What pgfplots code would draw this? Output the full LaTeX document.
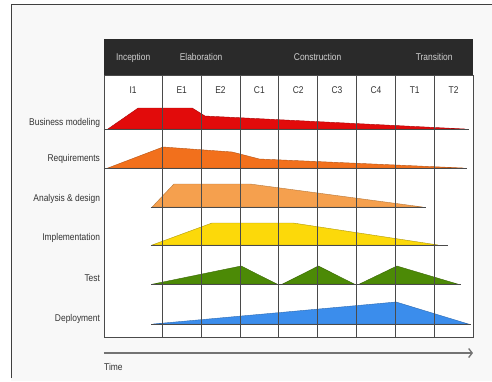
\documentclass[border=0pt]{standalone}
\usepackage{fontspec}
\setmainfont{Liberation Sans}[FakeStretch=0.86]
\usepackage{pgfplots}
\pgfplotsset{compat=1.18}
\usetikzlibrary{arrows.meta}
\definecolor{cBM}{HTML}{E20B0B}
\definecolor{cRQ}{HTML}{F2701C}
\definecolor{cAD}{HTML}{F5A04E}
\definecolor{cIM}{HTML}{FCD90A}
\definecolor{cTE}{HTML}{4C8A06}
\definecolor{cDE}{HTML}{3B8DEC}
\definecolor{hdr}{HTML}{2A2A2A}
\definecolor{bg}{HTML}{F8F8F8}
\definecolor{gridc}{HTML}{4A4A4A}
\definecolor{txt}{HTML}{333333}
\begin{document}
\begin{tikzpicture}
% page background and frame (axis south west sits at (0,0))
\fill[white] (-104pt,-44pt) rectangle (388pt,337pt);
\fill[bg] (-93pt,-44pt) rectangle (388pt,333pt);
\draw[black!75, line width=0.9pt] (-93pt,-41pt) -- (-93pt,333pt) -- (388pt,333pt);
\begin{axis}[
  name=ax, at={(0,0)}, anchor=south west,
  width=369pt, height=298pt, scale only axis,
  xmin=0, xmax=9.5, ymin=0, ymax=298,
  axis line style={draw=none},
  xtick=\empty,
  ytick={214,178,138,99,59,18},
  yticklabels={Business modeling,Requirements,Analysis \& design,Implementation,Test,Deployment},
  yticklabel style={font=\fontsize{9.8}{11}\selectfont, text=txt, xshift=-0.5pt},
  major tick length=0pt,
  clip=false,
]
% white grid area
\fill[white] (axis cs:0,0) rectangle (axis cs:9.5,262);
% Business modeling
\addplot[fill=cBM, draw=cBM!75!black, line width=0.4pt] coordinates {(0.1,208) (0.88,229) (2.27,229) (2.6,221) (9.3,208)} -- cycle;
% Requirements
\addplot[fill=cRQ, draw=cRQ!75!black, line width=0.4pt] coordinates {(0.1,169) (1.52,190) (3.3,185) (4.0,178) (9.25,169)} -- cycle;
% Analysis & design
\addplot[fill=cAD, draw=cAD!75!black, line width=0.4pt] coordinates {(1.24,130) (1.8,153) (3.76,153) (8.2,130)} -- cycle;
% Implementation
\addplot[fill=cIM, draw=cIM!70!black, line width=0.4pt] coordinates {(1.24,92) (2.78,114) (4.87,114) (8.6,92)} -- cycle;
% Test
\addplot[fill=cTE, draw=cTE!75!black, line width=0.4pt] coordinates {(1.27,53) (3.53,71) (4.45,53)} -- cycle;
\addplot[fill=cTE, draw=cTE!75!black, line width=0.4pt] coordinates {(4.6,53) (5.52,71) (6.44,53)} -- cycle;
\addplot[fill=cTE, draw=cTE!75!black, line width=0.4pt] coordinates {(6.58,53) (7.54,71) (9.1,53)} -- cycle;
% Deployment
\addplot[fill=cDE, draw=cDE!75!black, line width=0.4pt] coordinates {(1.27,13) (7.52,35) (9.38,13)} -- cycle;
% baselines
\addplot[gridc, line width=0.5pt] coordinates {(0,208) (9.4,208)};
\addplot[gridc, line width=0.5pt] coordinates {(0,169) (9.35,169)};
\addplot[gridc, line width=0.5pt] coordinates {(1.2,130) (8.3,130)};
\addplot[gridc, line width=0.5pt] coordinates {(1.2,92) (8.85,92)};
\addplot[gridc, line width=0.5pt] coordinates {(1.22,53) (9.2,53)};
\addplot[gridc, line width=0.5pt] coordinates {(1.22,13) (9.45,13)};
% grid
\foreach \x in {1.5,2.5,3.5,4.5,5.5,6.5,7.5,8.5}{
  \edef\tmp{\noexpand\draw[gridc, line width=0.8pt] (axis cs:\x,0) -- (axis cs:\x,262);}\tmp
}
\draw[gridc, line width=0.9pt] (axis cs:0,262) rectangle (axis cs:9.5,0);
% header
\fill[hdr] (axis cs:0,262) rectangle (axis cs:9.5,298);
\begin{scope}[every node/.style={font=\fontsize{9.8}{11}\selectfont, anchor=base, inner sep=0pt}]
\node[text=black!18] at (axis cs:0.75,276.5) {Inception};
\node[text=black!18] at (axis cs:2.5,276.5) {Elaboration};
\node[text=black!18] at (axis cs:5.5,276.5) {Construction};
\node[text=black!18] at (axis cs:8.5,276.5) {Transition};
\node[text=txt] at (axis cs:0.75,243.5) {I1};
\node[text=txt] at (axis cs:2,243.5) {E1};
\node[text=txt] at (axis cs:3,243.5) {E2};
\node[text=txt] at (axis cs:4,243.5) {C1};
\node[text=txt] at (axis cs:5,243.5) {C2};
\node[text=txt] at (axis cs:6,243.5) {C3};
\node[text=txt] at (axis cs:7,243.5) {C4};
\node[text=txt] at (axis cs:8,243.5) {T1};
\node[text=txt] at (axis cs:9,243.5) {T2};
\node[text=txt, anchor=base west] at (axis cs:0,-33) {Time};
\end{scope}
\draw[black!55, line width=1.3pt, -{Straight Barb[length=3.5pt,width=9pt]}] (axis cs:0,-16) -- (axis cs:9.5,-16);
\end{axis}
\pgfresetboundingbox
\path[use as bounding box] (-104pt,-44pt) rectangle (388pt,337pt);
\end{tikzpicture}
\end{document}
